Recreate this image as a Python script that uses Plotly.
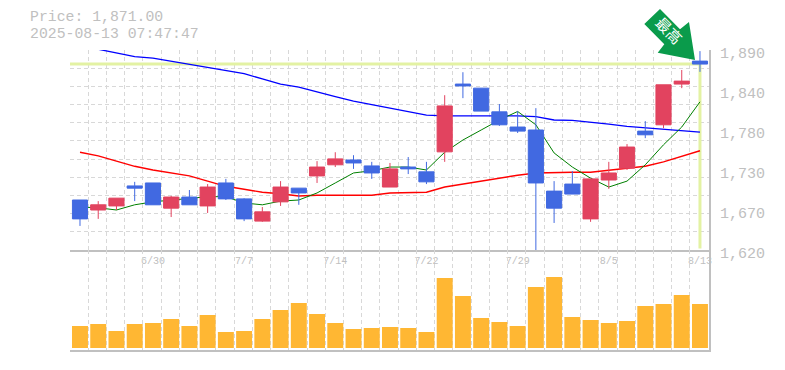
import plotly.graph_objects as go
from plotly.subplots import make_subplots

dates = ["6/24","6/25","6/26","6/27","6/30","7/1","7/2","7/3","7/4","7/7","7/8","7/9","7/10","7/11","7/14","7/15","7/16","7/17",
         "7/18","7/22","7/23","7/24","7/25","7/28","7/29","7/30","7/31","8/1","8/4","8/5","8/6","8/7","8/8","8/12","8/13"]
date_ticks = ["6/30","7/7","7/14","7/22","7/29","8/5","8/13"]

opens = [1687.5,1674,1679.5,1706.5,1710.5,1676.5,1691.5,1679.5,1710.5,1689,1659,1685,1703.5,1720,1735,1741.5,1733.5,1705,
         1732,1725.5,1752.5,1844,1838.5,1806.5,1786,1782,1699.5,1709,1662,1714.5,1730.5,1780.5,1789,1844,1875]
highs = [1687.5,1686,1690,1712,1710.5,1693,1701,1709,1716,1690,1678,1713,1703.5,1740,1752,1748,1739,1737.5,
         1745.5,1739,1829,1860,1838.5,1817,1807.5,1811.5,1713,1726.5,1716,1739,1763,1794,1843,1863,1888.5]
lows = [1652.5,1662,1674,1686,1681,1664.5,1681,1670,1687.5,1659,1658,1679.5,1681,1710.5,1732,1729.5,1716,1705,
        1722.5,1709,1739,1825,1807.5,1787.5,1778,1620,1656.5,1695.5,1658,1702.5,1728,1771,1784.5,1838.5,1860.5]
closes = [1662,1681,1690,1703.5,1681,1691.5,1681,1705,1689,1662,1671.5,1705,1697,1732,1743,1737.5,1724,1729.5,
          1729.5,1712,1814.5,1841.5,1807.5,1789,1780.5,1710.5,1676.5,1695.5,1716,1724,1759,1775.5,1843,1848,1871]

ma_short = [1678,1677,1674,1681,1685,1687.5,1689,1692,1692,1683.5,1681,1686,1687.5,1697,1710.5,1724,1727,1732,1732,1728,1752,1768.5,1782,1795.5,1807,1789,1751,1732,1717,1705,1713,1735,1762,1786,1820]
ma_mid = [1752,1747,1740,1733,1728,1724,1720,1713,1706,1702,1698,1696,1693,1694,1694,1694,1694,1697,1698,1698,1705,1709,1713,1717,1721,1724,1725,1725,1725,1728,1731,1733,1739,1746,1754]
ma_long = [None,1891,1886,1881,1879,1875,1871,1866,1863,1858,1851,1844,1840,1833,1827,1821,1816,1812,1806,1802,1801,1801,1802,1802,1801,1800,1795.5,1795,1793,1790,1787,1785,1783,1781,1779]

volumes = [22,24,17,24,25,29,22,33,16,17,29,38,45,34,25,19,20,21,20,16,70,52,30,26,22,61,71,31,28,25,27,42,44,53,44]

last_price = 1871
price_floor = 1622
price_range = [1620, 1890]
price_ticks = [1620,1674,1728,1782,1836,1890]
price_labels = ["1,620","1,670","1,730","1,780","1,840","1,890"]
title_lines = ["Price: 1,871.00","2025-08-13 07:47:47"]
arrow_label = "最高"

GRID = "#d8d8d8"
AXIS = "#c0c0c0"
TEXT = "#c0c0c0"
MONO = "Liberation Mono"
W, H = 785, 370
L, R, T, B = 70, 76, 50, 20
X_START = -0.548
X_END = 34.495
idx = list(range(len(dates)))

fig = make_subplots(rows=2, cols=1, shared_xaxes=False, vertical_spacing=0, row_heights=[2/3, 1/3])

fig.add_trace(go.Scatter(x=[X_START, idx[-1], idx[-1]], y=[last_price, last_price, price_floor], mode="lines",
                         line=dict(color="#e3f2a3", width=3), hoverinfo="skip"), row=1, col=1)
for vals, col, w in ((ma_long, "#0000ff", 1.3), (ma_mid, "#ff0000", 1.4), (ma_short, "#008000", 1)):
    fig.add_trace(go.Scatter(x=idx, y=vals, mode="lines", line=dict(color=col, width=w), cliponaxis=False), row=1, col=1)
fig.add_trace(go.Bar(x=idx, y=volumes, marker=dict(color="#ffb733", line=dict(width=0)), width=0.875), row=2, col=1)
# candles live on an overlaying axis so that they sit above the moving averages
fig.add_trace(go.Candlestick(x=idx, open=opens, high=highs, low=lows, close=closes, whiskerwidth=0, xaxis="x", yaxis="y3",
                             increasing=dict(line=dict(color="#e2435f", width=1), fillcolor="#e2435f"),
                             decreasing=dict(line=dict(color="#4169e1", width=1), fillcolor="#4169e1")))

tick_pos = [dates.index(d) for d in date_ticks]
grid_x = dict(tick0=X_START, dtick=1, showgrid=True, gridcolor=GRID, griddash="4px,3px", gridwidth=1, ticks="")
common_x = dict(range=[X_START, X_END], showgrid=False, zeroline=False, minor=grid_x, rangeslider=dict(visible=False), automargin=False)
fig.update_xaxes(row=1, col=1, tickmode="array", tickvals=tick_pos, ticktext=date_ticks, showline=True, linecolor=AXIS,
                 linewidth=2, ticks="", tickfont=dict(family=MONO, size=10, color=TEXT), **common_x)
fig.update_xaxes(row=2, col=1, showticklabels=False, showline=True, linecolor=AXIS, linewidth=2, ticks="", **common_x)
fig.update_yaxes(row=1, col=1, range=price_range, side="right", tickmode="array", tickvals=price_ticks, ticktext=price_labels,
                 showgrid=False, zeroline=False, showline=True, linecolor=AXIS, linewidth=2, ticks="", automargin=False,
                 ticklabelshift=3, ticklabelstandoff=6, tickfont=dict(family=MONO, size=15, color=TEXT),
                 minor=dict(tick0=1620, dtick=270/11, showgrid=True, gridcolor=GRID, griddash="4px,3px", gridwidth=1, ticks=""))
fig.update_yaxes(row=2, col=1, range=[-2, 98], side="right", showticklabels=False, showgrid=False, zeroline=False, automargin=False,
                 showline=True, linecolor=AXIS, linewidth=2, ticks="")
fig.update_layout(yaxis3=dict(overlaying="y", range=price_range, visible=False, side="right", anchor="x", showgrid=False, zeroline=False))

def px(x, y):
    return (x - L) / (W - L - R), (H - B - y) / (H - T - B)

arrow_pts = [(644.3,24),(660,9),(680,29.3),(689,22),(695,60),(657.7,52.7),(664.3,44.3)]
pp = [px(*p) for p in arrow_pts]
path = "M " + " L ".join(f"{a:.5f},{b:.5f}" for a, b in pp) + " Z"
fig.add_shape(type="path", path=path, xref="paper", yref="paper", fillcolor="#0a9b4b", line=dict(width=0), layer="above")

x0, y0 = px(648, 21)
x1, y1 = px(688, 42)
fig.add_shape(type="rect", x0=x0, y0=y0, x1=x1, y1=y1, xref="paper", yref="paper", line=dict(width=0), fillcolor="rgba(0,0,0,0)",
              layer="above", label=dict(text=arrow_label, textangle=45, textposition="middle center",
                                        font=dict(family="Noto Sans CJK JP", size=15, color="white")))
for line, yy in zip(title_lines, (17.5, 34)):
    tx, ty = px(28, yy)
    fig.add_annotation(x=tx, y=ty, xref="paper", yref="paper", text=line, showarrow=False, xanchor="left", yanchor="middle",
                       height=14, font=dict(family=MONO, size=14.8, color=TEXT))

fig.update_layout(width=W, height=H, margin=dict(l=L, r=R, t=T, b=B, autoexpand=False), paper_bgcolor="white", plot_bgcolor="white",
                  showlegend=False, bargap=0.12, boxgap=0.17, boxgroupgap=0, hovermode=False)
fig.write_html("out.html", post_script="document.body.style.margin='0';", config=dict(displayModeBar=False))
